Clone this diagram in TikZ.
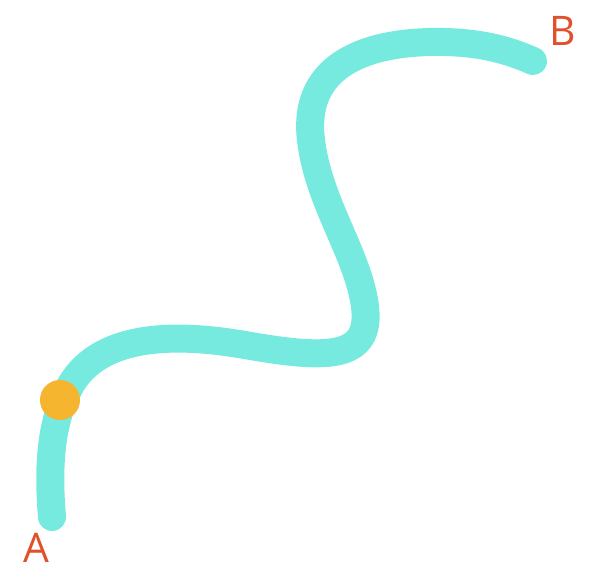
\documentclass[tikz,border=0pt]{standalone}
\usepackage{fontspec}
\setmainfont{Open Sans}
\usepackage{color}
\definecolor{pathcol}{HTML}{76EADF}
\definecolor{dotcol}{HTML}{F5B52E}
\definecolor{labcol}{HTML}{E0502A}

\begin{document}
\begin{tikzpicture}[x=0.025cm, y=-0.025cm]
			\useasboundingbox (0, 0) rectangle (600, 576);		% frame
			
			% drawing the path from A to B
			\draw[pathcol, line width=0.7cm, line cap=round] (52,517)
				.. controls (48,470) and (50,425) .. (68,390)
				.. controls (95,335) and (170,332) .. (245,345)
				.. controls (330,360) and (375,360) .. (364,300)
				.. controls (355,250) and (318,200) .. (311,140)
				.. controls (303,75) and (350,44) .. (430,42)
				.. controls (478,41) and (508,50) .. (533,61);
			
			% drawing the moving point
			\node[circle, fill=dotcol, minimum size=1cm, inner sep=0pt] (dot) at (60, 400) {};
			
			% drawing the end labels
			\node[labcol, font=\fontsize{29}{32}\selectfont] (A) at (36, 548) {A};
			\node[labcol, font=\fontsize{29}{32}\selectfont] (B) at (563, 31) {B};
			
		\end{tikzpicture}
\end{document}
